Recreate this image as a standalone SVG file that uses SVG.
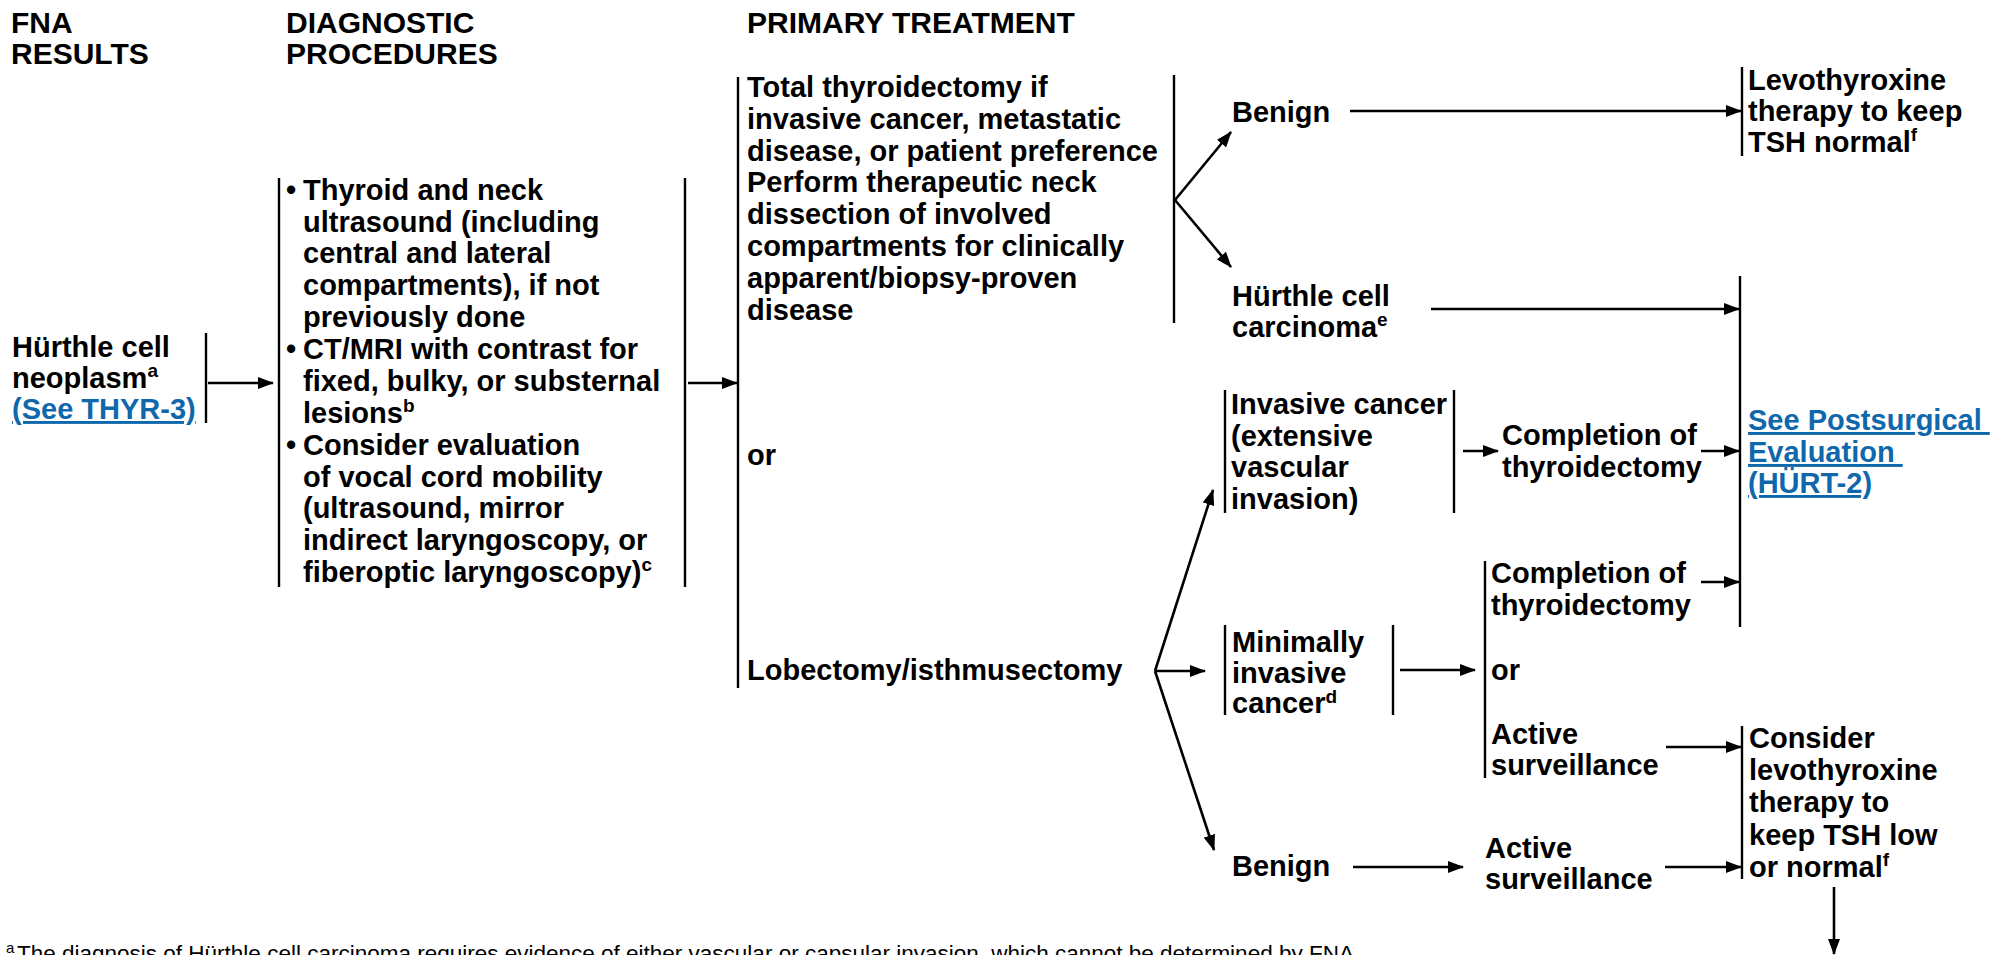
<svg xmlns="http://www.w3.org/2000/svg" width="1997" height="955" viewBox="0 0 1997 955">
<style>
text{font-family:"Liberation Sans",Arial,Helvetica,sans-serif;font-weight:bold;font-size:29px;fill:#000}
.h{font-size:30px}
.sup{font-size:19px}
.lnk{fill:#0f68ab;text-decoration:underline}
.fn{font-weight:normal;font-size:22.5px}
.fns{font-weight:normal;font-size:15px}
.bar{stroke:#000;stroke-width:2.4;fill:none}
.cn{stroke:#000;stroke-width:2.6;fill:none;marker-end:url(#ah)}
</style>
<defs>
<marker id="ah" viewBox="0 0 16 12" refX="15" refY="6" markerWidth="16" markerHeight="12" markerUnits="userSpaceOnUse" orient="auto">
<path d="M0,0 L16,6 L0,12 z" fill="#000"/>
</marker>
</defs>
<rect width="1997" height="955" fill="#fff"/>

<g id="headers">
<text class="h"><tspan x="11" y="33">FNA</tspan><tspan x="11" y="64">RESULTS</tspan></text>
<text class="h"><tspan x="286" y="33">DIAGNOSTIC</tspan><tspan x="286" y="64">PROCEDURES</tspan></text>
<text class="h"><tspan x="747" y="33">PRIMARY TREATMENT</tspan></text>
</g>

<g id="node-fna">
<line class="bar" x1="206" y1="333" x2="206" y2="423"/>
<text><tspan x="12" y="357">Hürthle cell</tspan><tspan x="12" y="388">neoplasm</tspan><tspan class="sup" dy="-11">a</tspan></text>
<text class="lnk" x="12" y="419">(See THYR-3)</text>
</g>

<g id="node-diagnostic">
<line class="bar" x1="279" y1="178" x2="279" y2="587"/>
<line class="bar" x1="685" y1="178" x2="685" y2="587"/>
<text>
<tspan x="286" y="200">•</tspan><tspan x="303" y="200">Thyroid and neck</tspan>
<tspan x="303" y="232">ultrasound (including</tspan>
<tspan x="303" y="263">central and lateral</tspan>
<tspan x="303" y="295">compartments), if not</tspan>
<tspan x="303" y="327">previously done</tspan>
<tspan x="286" y="359">•</tspan><tspan x="303" y="359">CT/MRI with contrast for</tspan>
<tspan x="303" y="391">fixed, bulky, or substernal</tspan>
<tspan x="303" y="423">lesions</tspan><tspan class="sup" dy="-11">b</tspan>
<tspan x="286" y="455">•</tspan><tspan x="303" y="455">Consider evaluation</tspan>
<tspan x="303" y="487">of vocal cord mobility</tspan>
<tspan x="303" y="518">(ultrasound, mirror</tspan>
<tspan x="303" y="550">indirect laryngoscopy, or</tspan>
<tspan x="303" y="582">fiberoptic laryngoscopy)</tspan><tspan class="sup" dy="-11">c</tspan>
</text>
</g>

<g id="node-primary">
<line class="bar" x1="738" y1="77" x2="738" y2="688"/>
<line class="bar" x1="1174" y1="75" x2="1174" y2="323"/>
<text>
<tspan x="747" y="97">Total thyroidectomy if</tspan>
<tspan x="747" y="129">invasive cancer, metastatic</tspan>
<tspan x="747" y="161">disease, or patient preference</tspan>
<tspan x="747" y="192">Perform therapeutic neck</tspan>
<tspan x="747" y="224">dissection of involved</tspan>
<tspan x="747" y="256">compartments for clinically</tspan>
<tspan x="747" y="288">apparent/biopsy-proven</tspan>
<tspan x="747" y="320">disease</tspan>
</text>
<text x="747" y="465">or</text>
<text x="747" y="680">Lobectomy/isthmusectomy</text>
</g>

<g id="node-benign-1">
<text x="1232" y="122">Benign</text>
</g>

<g id="node-hurthle-carcinoma">
<text><tspan x="1232" y="306">Hürthle cell</tspan><tspan x="1232" y="337">carcinoma</tspan><tspan class="sup" dy="-11">e</tspan></text>
</g>

<g id="node-levo-normal">
<line class="bar" x1="1742" y1="67" x2="1742" y2="156"/>
<text><tspan x="1748" y="90">Levothyroxine</tspan><tspan x="1748" y="121">therapy to keep</tspan><tspan x="1748" y="152">TSH normal</tspan><tspan class="sup" dy="-11">f</tspan></text>
</g>

<g id="node-postsurgical">
<line class="bar" x1="1740" y1="276" x2="1740" y2="627"/>
<text class="lnk"><tspan x="1748" y="430" style="white-space:pre">See Postsurgical </tspan><tspan x="1748" y="462" style="white-space:pre">Evaluation </tspan><tspan x="1748" y="493">(HÜRT-2)</tspan></text>
</g>

<g id="node-invasive">
<line class="bar" x1="1225" y1="390" x2="1225" y2="513"/>
<line class="bar" x1="1454" y1="390" x2="1454" y2="513"/>
<text><tspan x="1231" y="414">Invasive cancer</tspan><tspan x="1231" y="446">(extensive</tspan><tspan x="1231" y="477">vascular</tspan><tspan x="1231" y="509">invasion)</tspan></text>
</g>

<g id="node-completion-1">
<text><tspan x="1502" y="445">Completion of</tspan><tspan x="1502" y="477">thyroidectomy</tspan></text>
</g>

<g id="node-minimally">
<line class="bar" x1="1225" y1="625" x2="1225" y2="715"/>
<line class="bar" x1="1393" y1="625" x2="1393" y2="715"/>
<text><tspan x="1232" y="652">Minimally</tspan><tspan x="1232" y="683">invasive</tspan><tspan x="1232" y="713">cancer</tspan><tspan class="sup" dy="-10">d</tspan></text>
</g>

<g id="node-completion-or-active">
<line class="bar" x1="1485" y1="561" x2="1485" y2="778"/>
<text><tspan x="1491" y="583">Completion of</tspan><tspan x="1491" y="615">thyroidectomy</tspan></text>
<text x="1491" y="680">or</text>
<text><tspan x="1491" y="744">Active</tspan><tspan x="1491" y="775">surveillance</tspan></text>
</g>

<g id="node-benign-2">
<text x="1232" y="876">Benign</text>
</g>

<g id="node-active-2">
<text><tspan x="1485" y="858">Active</tspan><tspan x="1485" y="889">surveillance</tspan></text>
</g>

<g id="node-consider">
<line class="bar" x1="1742" y1="726" x2="1742" y2="879"/>
<text><tspan x="1749" y="748">Consider</tspan><tspan x="1749" y="780">levothyroxine</tspan><tspan x="1749" y="812">therapy to</tspan><tspan x="1749" y="845">keep TSH low</tspan><tspan x="1749" y="877">or normal</tspan><tspan class="sup" dy="-11">f</tspan></text>
</g>

<g id="connectors">
<line class="cn" x1="208" y1="383" x2="273" y2="383"/>
<line class="cn" x1="688" y1="383" x2="737" y2="383"/>
<line class="cn" x1="1175" y1="200" x2="1231" y2="132"/>
<line class="cn" x1="1175" y1="200" x2="1231" y2="267"/>
<line class="cn" x1="1350" y1="111" x2="1741" y2="111"/>
<line class="cn" x1="1431" y1="309" x2="1739" y2="309"/>
<line class="cn" x1="1155" y1="671" x2="1213" y2="490"/>
<line class="cn" x1="1155" y1="671" x2="1205" y2="671"/>
<line class="cn" x1="1155" y1="671" x2="1214" y2="850"/>
<line class="cn" x1="1463" y1="451" x2="1498" y2="451"/>
<line class="cn" x1="1701" y1="451" x2="1739" y2="451"/>
<line class="cn" x1="1701" y1="582" x2="1739" y2="582"/>
<line class="cn" x1="1400" y1="670" x2="1475" y2="670"/>
<line class="cn" x1="1666" y1="747" x2="1741" y2="747"/>
<line class="cn" x1="1353" y1="867" x2="1463" y2="867"/>
<line class="cn" x1="1665" y1="867" x2="1741" y2="867"/>
<line class="cn" x1="1834" y1="887" x2="1834" y2="954"/>
</g>

<g id="footnote">
<text class="fn"><tspan class="fns" x="6" y="953">a</tspan><tspan x="17" y="961">The diagnosis of Hürthle cell carcinoma requires evidence of either vascular or capsular invasion, which cannot be determined by FNA.</tspan></text>
</g>
</svg>
